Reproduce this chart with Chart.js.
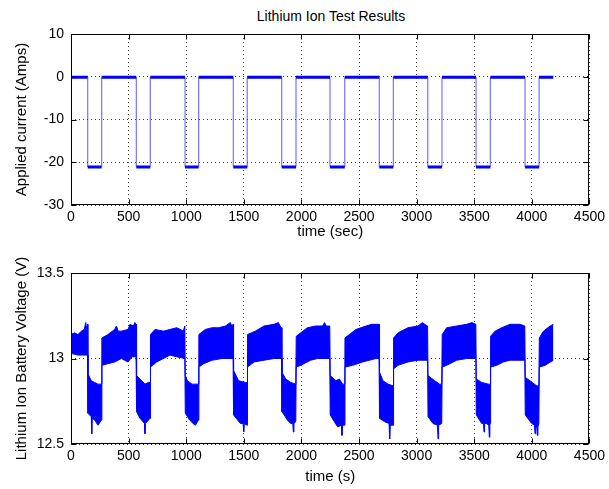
<!DOCTYPE html>
<html>
<head>
<meta charset="utf-8">
<script src="https://cdn.jsdelivr.net/npm/chart.js@4.4.1/dist/chart.umd.min.js"></script>
<style>
  html, body { margin:0; padding:0; background:#fff; }
  body { width:609px; height:489px; position:relative; overflow:hidden; font-family:"Liberation Sans", Arial, sans-serif; }
  #title { position:absolute; top:7px; left:71px; width:520px; text-align:center; font-size:14px; color:#000; line-height:18px; }
  canvas { position:absolute; left:0; }
  #c1 { top:0; }
  #c2 { top:245px; }
</style>
</head>
<body>
<div id="title">Lithium Ion Test Results</div>
<canvas id="c1" width="609" height="245"></canvas>
<canvas id="c2" width="609" height="244"></canvas>
<script>
// ---------- data ----------
const timeTicks = [0, 500, 1000, 1500, 2000, 2500, 3000, 3500, 4000, 4500];
const currentTicks = [-30, -20, -10, 0, 10];
const voltageTicks = [12.5, 13, 13.5];

// applied current (square pulses)
const pulseStarts = [145, 567, 990, 1409, 1829, 2248, 2676, 3097, 3516, 3941];
const pulseEnds   = [266, 688, 1108, 1530, 1953, 2376, 2798, 3220, 3640, 4063];
const pulseLevels = [-21.1, -21.1, -21.1, -21.1, -21.1, -21.1, -21.1, -21.1, -21.1, -21.1];
const restLevel = -0.1;
const endTime = 4187;

// battery voltage: upper and lower edge of the noise band
const upperTimes = [0,30,60,90,115,128,135,143, 147,176,205,234,264,
  268,321,379,394,410,437,495,512,540,555,565, 569,614,642,671,686,
  690,729,802,860,917,950,975,988, 992,1010,1050,1106,
  1110,1166,1224,1282,1340,1383,1395,1407, 1411,1455,1513,1528,
  1532,1600,1675,1762,1800,1815,1827, 1831,1864,1907,1951,
  1955,1994,2052,2124,2184,2200,2215,2246, 2250,2300,2329,2358,2374,
  2378,2416,2474,2561,2610,2648,2674, 2678,2708,2752,2796,
  2800,2839,2925,3012,3050,3070,3095, 3099,3157,3200,3218,
  3222,3261,3348,3435,3480,3514, 3518,3565,3623,3638,
  3642,3681,3739,3811,3898,3939, 3943,3984,4042,4061,
  4065,4101,4159,4187];
const upperVolts = [13.14,13.15,13.14,13.16,13.17,13.21,13.17,13.20, 12.91,12.87,12.86,12.85,12.85,
  13.12,13.14,13.17,13.19,13.16,13.16,13.17,13.20,13.19,13.21,13.20, 12.90,12.87,12.85,12.86,12.86,
  13.14,13.17,13.16,13.17,13.18,13.17,13.16,13.19, 12.90,12.87,12.85,12.85,
  13.14,13.17,13.18,13.18,13.19,13.21,13.19,13.20, 12.93,12.87,12.86,12.86,
  13.14,13.16,13.19,13.20,13.21,13.19,13.18, 12.92,12.88,12.86,12.85,
  13.13,13.15,13.18,13.19,13.19,13.21,13.19,13.19, 12.90,12.87,12.88,12.85,12.85,
  13.12,13.14,13.17,13.19,13.20,13.20,13.20, 12.92,12.87,12.85,12.84,
  13.12,13.15,13.18,13.19,13.21,13.20,13.19, 12.90,12.87,12.85,12.85,
  13.14,13.18,13.19,13.20,13.21,13.20, 12.88,12.86,12.85,12.85,
  13.13,13.16,13.18,13.20,13.20,13.19, 12.89,12.87,12.84,12.84,
  13.12,13.16,13.19,13.20];

const lowerTimes = [0,60,100,143, 147,176,180,184,206,234,264,
  268,321,379,437,495,530,565, 569,599,638,642,646,686,
  690,744,802,860,917,988, 992,1030,1060,1080,1106,
  1110,1152,1224,1311,1407, 1411,1470,1494,1499,1504,1528,
  1532,1589,1675,1762,1827, 1831,1878,1907,1925,1930,1935,1951,
  1955,1994,2080,2140,2246, 2250,2286,2315,2347,2352,2357,2374,
  2378,2445,2532,2648,2674, 2678,2723,2761,2766,2771,2796,
  2800,2839,2925,3012,3095, 3099,3142,3181,3186,3191,3218,
  3222,3261,3348,3435,3514, 3518,3565,3580,3585,3590,3605,3626,3631,3636,3638,
  3642,3695,3753,3811,3939, 3943,3999,4023,4028,4033,4043,4048,4053,4061,
  4065,4115,4187];
const lowerVolts = [13.03,13.02,13.02,13.02, 12.68,12.66,12.56,12.65,12.64,12.61,12.64,
  12.96,12.97,12.98,13.00,12.98,13.01,13.01, 12.69,12.65,12.62,12.56,12.62,12.65,
  12.95,12.98,13.00,13.02,13.01,13.00, 12.68,12.64,12.62,12.61,12.64,
  12.95,12.97,12.99,13.00,13.00, 12.67,12.62,12.62,12.57,12.62,12.61,
  12.95,12.98,12.99,13.00,13.00, 12.69,12.64,12.62,12.62,12.57,12.62,12.63,
  12.95,12.96,12.99,13.00,13.00, 12.67,12.63,12.60,12.61,12.55,12.61,12.61,
  12.95,12.96,12.98,13.00,13.00, 12.65,12.63,12.62,12.53,12.61,12.61,
  12.94,12.96,12.98,12.99,12.99, 12.66,12.62,12.61,12.53,12.61,12.62,
  12.95,12.96,12.99,13.00,13.00, 12.67,12.62,12.62,12.57,12.62,12.62,12.61,12.54,12.61,12.62,
  12.95,12.96,12.98,12.99,12.99, 12.67,12.62,12.61,12.56,12.60,12.60,12.55,12.60,12.62,
  12.95,12.96,12.99];

// ---------- build chart data ----------
const currentPts = [{x: 0, y: restLevel}];
pulseStarts.forEach((s, i) => {
  currentPts.push({x: s, y: restLevel}, {x: s, y: pulseLevels[i]},
                  {x: pulseEnds[i], y: pulseLevels[i]}, {x: pulseEnds[i], y: restLevel});
});
currentPts.push({x: endTime, y: restLevel});
const upperPts = upperTimes.map((t, i) => ({x: t, y: upperVolts[i]}));
const lowerPts = lowerTimes.map((t, i) => ({x: t, y: lowerVolts[i]}));

const FAMILY = '"Liberation Sans", Arial, sans-serif';
const TICK_FONT = {family: FAMILY, size: 14};
const LABEL_FONT = {family: FAMILY, size: 15};
const BLUE = '#0000ff';

const boxPlugin = {
  id: 'matlabBox',
  afterDraw(chart) {
    const ctx = chart.ctx;
    const a = chart.chartArea;
    const xs = chart.scales.x, ys = chart.scales.y;
    ctx.save();
    ctx.strokeStyle = '#000';
    ctx.lineWidth = 1;
    const L = Math.round(a.left) + 0.5, R = Math.round(a.right) - 0.5;
    const T = Math.round(a.top) + 0.5, B = Math.round(a.bottom) - 0.5;
    ctx.strokeRect(L, T, R - L, B - T);
    ctx.beginPath();
    const tl = 5;
    xs.ticks.forEach(t => {
      const px = Math.round(xs.getPixelForValue(t.value)) + 0.5;
      ctx.moveTo(px, B); ctx.lineTo(px, B - tl);
      ctx.moveTo(px, T); ctx.lineTo(px, T + tl);
    });
    ys.ticks.forEach(t => {
      const py = Math.round(ys.getPixelForValue(t.value)) + 0.5;
      ctx.moveTo(L, py); ctx.lineTo(L + tl, py);
      ctx.moveTo(R, py); ctx.lineTo(R - tl, py);
    });
    ctx.stroke();
    ctx.restore();
  }
};

function axes(xTitle, yTitle, yMin, yMax, yTicks, xTitlePad, xHeight) {
  return {
    x: {
      type: 'linear', min: 0, max: 4500,
      afterBuildTicks: s => { s.ticks = timeTicks.map(v => ({value: v})); },
      afterFit: s => { s.height = xHeight; },
      grid: {color: 'rgba(0,0,0,0.75)', drawTicks: false, lineWidth: 1},
      border: {display: false, dash: [1, 3]},
      ticks: {color: '#000', font: TICK_FONT, padding: 4, maxRotation: 0, autoSkip: false,
              callback: v => String(v)},
      title: {display: true, text: xTitle, color: '#000', font: LABEL_FONT, padding: {top: 0, bottom: xTitlePad}}
    },
    y: {
      type: 'linear', min: yMin, max: yMax,
      afterBuildTicks: s => { s.ticks = yTicks.map(v => ({value: v})); },
      afterFit: s => { s.width = 71; },
      grid: {color: 'rgba(0,0,0,0.75)', drawTicks: false, lineWidth: 1},
      border: {display: false, dash: [1, 3]},
      ticks: {color: '#000', font: TICK_FONT, padding: 7, autoSkip: false,
              callback: v => String(v)},
      title: {display: true, text: yTitle, color: '#000', font: LABEL_FONT, padding: {top: 13, bottom: 0}}
    }
  };
}

const common = {
  responsive: false, animation: false, devicePixelRatio: 1,
  plugins: {legend: {display: false}, tooltip: {enabled: false}, title: {display: false}},
  elements: {point: {radius: 0}, line: {tension: 0}},
};

new Chart(document.getElementById('c1'), {
  type: 'line',
  data: {datasets: [{
    data: currentPts,
    borderColor: BLUE,
    borderWidth: 3,
    segment: {
      borderWidth: c => (c.p0.parsed.x === c.p1.parsed.x ? 1.2 : 3),
      borderColor: c => (c.p0.parsed.x === c.p1.parsed.x ? 'rgba(0,0,255,0.55)' : BLUE)
    },
    fill: false
  }]},
  options: Object.assign({}, common, {
    layout: {padding: {top: 34, right: 18, left: 0, bottom: 0}},
    scales: axes('time (sec)', 'Applied current (Amps)', -30, 10, currentTicks, 4, 40)
  }),
  plugins: [boxPlugin]
});

new Chart(document.getElementById('c2'), {
  type: 'line',
  data: {datasets: [
    {data: upperPts, borderColor: BLUE, borderWidth: 1, fill: false},
    {data: lowerPts, borderColor: BLUE, borderWidth: 1, fill: '-1', backgroundColor: BLUE}
  ]},
  options: Object.assign({}, common, {
    layout: {padding: {top: 28, right: 18, left: 0, bottom: 0}},
    scales: axes('time (s)', 'Lithium Ion Battery Voltage (V)', 12.5, 13.5, voltageTicks, 3, 45)
  }),
  plugins: [boxPlugin]
});
</script>
</body>
</html>
